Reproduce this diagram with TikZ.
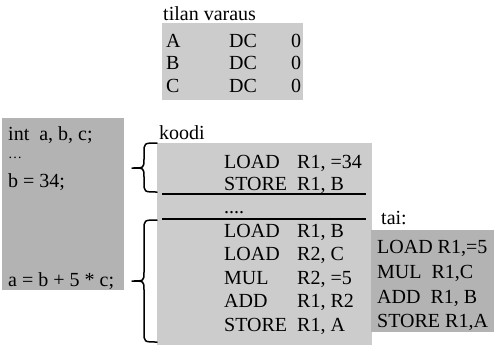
\documentclass[tikz,border=0pt]{standalone}
\usepackage{fontspec}
\setmainfont{Liberation Serif}
\definecolor{panelLight}{HTML}{CCCCCC}
\definecolor{panelDark}{HTML}{B3B3B3}
\tikzset{
  txt/.style={anchor=base west, inner sep=0pt, font=\fontsize{20}{24}\selectfont},
  panel/.style={fill=#1, draw=none},
  rule/.style={line width=1.2pt},
  curly/.style={line width=1.5pt, line cap=round, line join=round},
}
% curly brace opening to the right: right end x, spine x, tip x, top y, tip y, bottom y
\newcommand\rightcurly[6]{%
  \draw[curly] (#1,#4) .. controls (#2,#4) .. (#2,#4+10)
    -- (#2,#5-9) .. controls (#2,#5) .. (#3,#5)
    .. controls (#2,#5) .. (#2,#5+9)
    -- (#2,#6-10) .. controls (#2,#6) .. (#1,#6);}
\begin{document}
\begin{tikzpicture}[x=1pt, y=-1pt]
\useasboundingbox (0,0) rectangle (494,346);

% symbol table
\node[txt] (tlabel) at (163,20) {tilan varaus};
\fill[panelLight] (162,23) rectangle (303,100);
\node[txt] (sa) at (166,47) {A};
\node[txt] (sadc) at (229,47) {DC};
\node[txt] (sa0) at (291,47) {0};
\node[txt] (sb) at (166,69) {B};
\node[txt] (sbdc) at (229,69) {DC};
\node[txt] (sb0) at (291,69) {0};
\node[txt] (sc) at (166,92) {C};
\node[txt] (scdc) at (229,92) {DC};
\node[txt] (sc0) at (291,92) {0};

% source program
\fill[panelDark] (2,118) rectangle (124,290);
\node[txt] (s1) at (8,140) {int\ \ a, b, c;};
\node[txt] (s2) at (8,163) {\fontsize{14}{16}\selectfont\raisebox{5pt}{\dots}};
\node[txt] (s3) at (8,187) {b = 34;};
\node[txt] (s4) at (8,286) {a = b + 5 * c;};

% generated code
\node[txt] (klabel) at (159,139) {koodi};
\fill[panelLight] (157,143) rectangle (372,345);
\node[txt] (c1a) at (224,168) {LOAD};
\node[txt] (c1b) at (297,168) {R1, =34};
\node[txt] (c2a) at (224,190) {STORE};
\node[txt] (c2b) at (297,190) {R1, B};
\coordinate (r1l) at (162,194);
\coordinate (r1r) at (366,194);
\draw[rule] (r1l) -- (r1r);
\node[txt] (cdots) at (224,213) {....};
\coordinate (r2l) at (162,219);
\coordinate (r2r) at (366,219);
\draw[rule] (r2l) -- (r2r);
\node[txt] (c3a) at (224,237) {LOAD};
\node[txt] (c3b) at (297,237) {R1, B};
\node[txt] (c4a) at (224,260) {LOAD};
\node[txt] (c4b) at (297,260) {R2, C};
\node[txt] (c5a) at (224,284) {MUL};
\node[txt] (c5b) at (297,284) {R2, =5};
\node[txt] (c6a) at (224,307) {ADD};
\node[txt] (c6b) at (297,307) {R1, R2};
\node[txt] (c7a) at (224,331) {STORE};
\node[txt] (c7b) at (297,331) {R1, A};

% braces tying statements to code
\rightcurly{157}{144}{132}{143}{168}{192}
\rightcurly{157}{144}{132}{220}{281}{342}

% alternative code
\node[txt] (alabel) at (381,224) {tai:};
\fill[panelDark] (371,230) rectangle (494,332);
\node[txt] (a1) at (377,253) {LOAD R1,=5};
\node[txt] (a2) at (377,278) {MUL\ \ R1,C};
\node[txt] (a3) at (377,303) {ADD\ \ R1, B};
\node[txt] (a4) at (377,327) {STORE R1,A};
\end{tikzpicture}
\end{document}
